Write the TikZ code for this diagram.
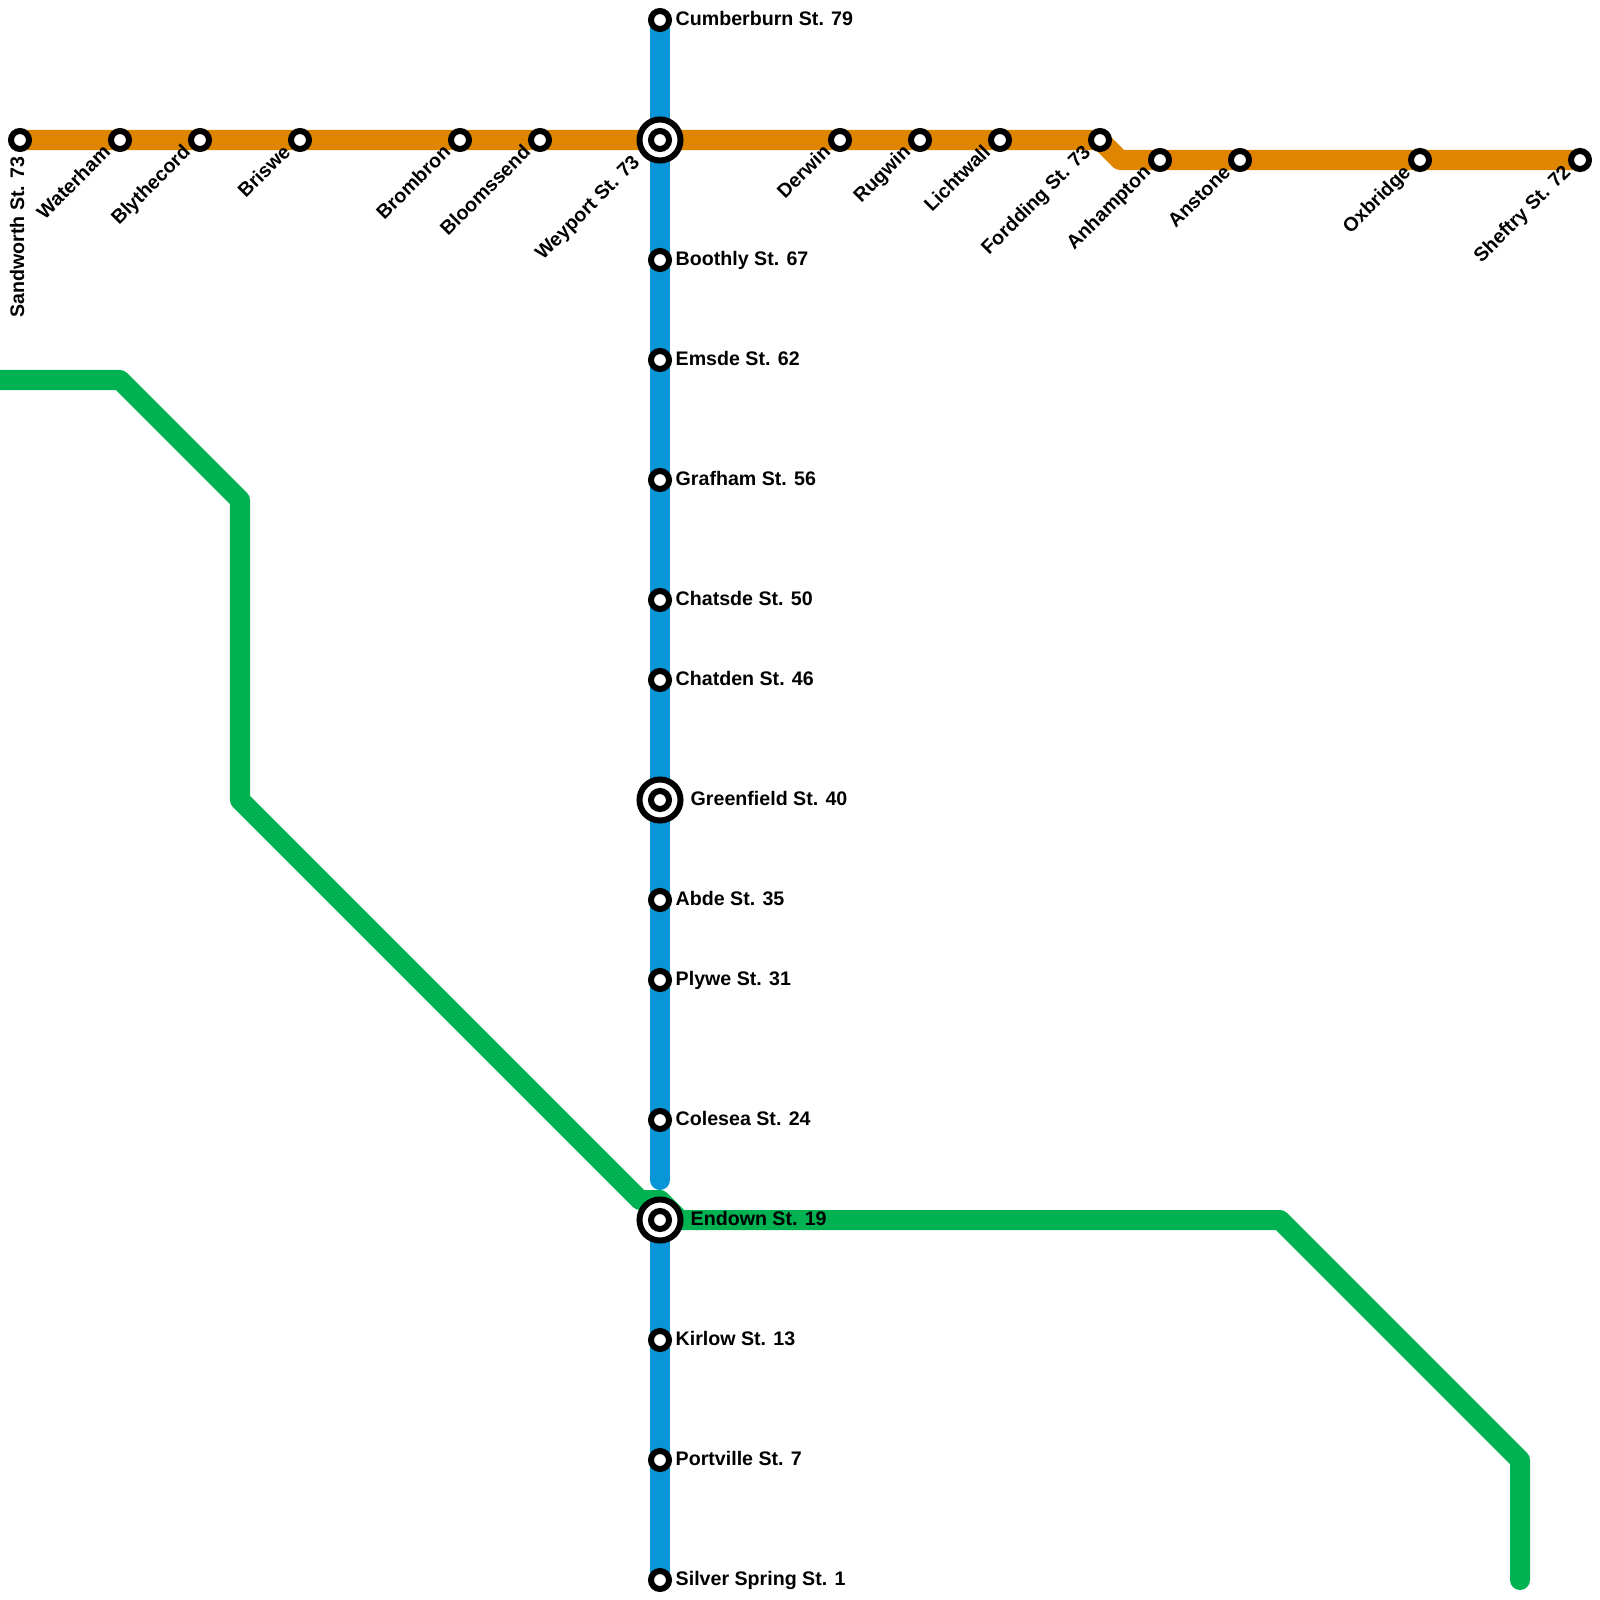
\documentclass[tikz,border=0pt]{standalone}
\usepackage{fontspec}
\setmainfont{Liberation Sans}
\usepackage{xcolor}
\definecolor{lnblue}{RGB}{9,150,217}
\definecolor{lnorange}{RGB}{223,133,0}
\definecolor{lngreen}{RGB}{0,178,81}
\usetikzlibrary{backgrounds}
\tikzset{
  stn/.style={circle, draw=black, fill=white, line width=0.06cm, minimum size=0.18cm, inner sep=0pt},
  hub/.style={circle, draw=black, fill=white, line width=0.06cm, minimum size=0.41cm, inner sep=0pt},
  lnroute/.style={line width=0.2cm, line cap=round, line join=round},
  lblbase/.style={font=\fontsize{5.58pt}{6pt}\selectfont\bfseries, inner sep=0pt, text height=4pt, text depth=0pt},
  lblright/.style={lblbase, anchor=west},
  lbldiag/.style={lblbase, anchor=east, xshift=-0.04cm, yshift=0.02cm, rotate=45},
  lblup/.style={lblbase, anchor=east, rotate=90},
}
\begin{document}
\begin{tikzpicture}[x=0.01cm, y=-0.01cm]
  \useasboundingbox (0,0) rectangle (1600,1600);
  % orange stations
  \node[stn] (sandworth) at (20,140) {};
  \node[stn] (waterham) at (120,140) {};
  \node[stn] (blythecord) at (200,140) {};
  \node[stn] (briswe) at (300,140) {};
  \node[stn] (brombron) at (460,140) {};
  \node[stn] (bloomssend) at (540,140) {};
  \node[hub] (weyporthub) at (660,140) {};
  \node[stn] (weyport) at (660,140) {};
  \node[stn] (derwin) at (840,140) {};
  \node[stn] (rugwin) at (920,140) {};
  \node[stn] (lichtwall) at (1000,140) {};
  \node[stn] (fordding) at (1100,140) {};
  \node[stn] (anhampton) at (1160,160) {};
  \node[stn] (anstone) at (1240,160) {};
  \node[stn] (oxbridge) at (1420,160) {};
  \node[stn] (sheftry) at (1580,160) {};
  % blue stations
  \node[stn] (cumberburn) at (660,20) {};
  \node[stn] (boothly) at (660,260) {};
  \node[stn] (emsde) at (660,360) {};
  \node[stn] (grafham) at (660,480) {};
  \node[stn] (chatsde) at (660,600) {};
  \node[stn] (chatden) at (660,680) {};
  \node[hub] (greenfieldhub) at (660,800) {};
  \node[stn] (greenfield) at (660,800) {};
  \node[stn] (abde) at (660,900) {};
  \node[stn] (plywe) at (660,980) {};
  \node[stn] (colesea) at (660,1120) {};
  \node[hub] (endownhub) at (660,1220) {};
  \node[stn] (endown) at (660,1220) {};
  \node[stn] (kirlow) at (660,1340) {};
  \node[stn] (portville) at (660,1460) {};
  \node[stn] (silver) at (660,1580) {};
  % corners
  \coordinate (orangebend1) at (1120,160);
  \coordinate (bluegap) at (660,1180);
  \coordinate (green1) at (-20,380);
  \coordinate (green2) at (120,380);
  \coordinate (green3) at (240,500);
  \coordinate (green4) at (240,800);
  \coordinate (green5) at (640,1200);
  \coordinate (green6) at (660,1200);
  \coordinate (green7) at (680,1220);
  \coordinate (green8) at (1280,1220);
  \coordinate (green9) at (1520,1460);
  \coordinate (green10) at (1520,1580);
  % lines
  \begin{scope}[on background layer]
    \draw[lnroute, lngreen] (green1) -- (green2) -- (green3) -- (green4) -- (green5) -- (green6) -- (green7) -- (green8) -- (green9) -- (green10);
    \draw[lnroute, lnblue] (cumberburn.center) -- (weyport.center) -- (boothly.center) -- (emsde.center) -- (grafham.center) -- (chatsde.center) -- (chatden.center) -- (greenfield.center) -- (abde.center) -- (plywe.center) -- (colesea.center) -- (bluegap);
    \draw[lnroute, lnblue] (endown.center) -- (kirlow.center) -- (portville.center) -- (silver.center);
    \draw[lnroute, lnorange] (sandworth.center) -- (waterham.center) -- (blythecord.center) -- (briswe.center) -- (brombron.center) -- (bloomssend.center) -- (weyport.center) -- (derwin.center) -- (rugwin.center) -- (lichtwall.center) -- (fordding.center) -- (orangebend1) -- (anhampton.center) -- (anstone.center) -- (oxbridge.center) -- (sheftry.center);
  \end{scope}
  % labels
  \node[lblup] (lsandworth) at (17,156) {Sandworth St. 73};
  \node[lbldiag] (lwaterham) at (111,150) {Waterham};
  \node[lbldiag] (lblythecord) at (191,150) {Blythecord};
  \node[lbldiag] (lbriswe) at (291,150) {Briswe};
  \node[lbldiag] (lbrombron) at (451,150) {Brombron};
  \node[lbldiag] (lbloomssend) at (531,150) {Bloomssend};
  \node[lbldiag] (lweyport) at (640,160) {Weyport St. 73};
  \node[lbldiag] (lderwin) at (831,150) {Derwin};
  \node[lbldiag] (lrugwin) at (911,150) {Rugwin};
  \node[lbldiag] (llichtwall) at (991,150) {Lichtwall};
  \node[lbldiag] (lfordding) at (1091,150) {Fordding St. 73};
  \node[lbldiag] (lanhampton) at (1151,170) {Anhampton};
  \node[lbldiag] (lanstone) at (1231,170) {Anstone};
  \node[lbldiag] (loxbridge) at (1411,170) {Oxbridge};
  \node[lbldiag] (lsheftry) at (1571,170) {Sheftry St. 72};
  \node[lblright] (lcumberburn) at (675,18) {Cumberburn St. 79};
  \node[lblright] (lboothly) at (675,258) {Boothly St. 67};
  \node[lblright] (lemsde) at (675,358) {Emsde St. 62};
  \node[lblright] (lgrafham) at (675,478) {Grafham St. 56};
  \node[lblright] (lchatsde) at (675,598) {Chatsde St. 50};
  \node[lblright] (lchatden) at (675,678) {Chatden St. 46};
  \node[lblright] (lgreenfield) at (690,798) {Greenfield St. 40};
  \node[lblright] (labde) at (675,898) {Abde St. 35};
  \node[lblright] (lplywe) at (675,978) {Plywe St. 31};
  \node[lblright] (lcolesea) at (675,1118) {Colesea St. 24};
  \node[lblright] (lendown) at (690,1218) {Endown St. 19};
  \node[lblright] (lkirlow) at (675,1338) {Kirlow St. 13};
  \node[lblright] (lportville) at (675,1458) {Portville St. 7};
  \node[lblright] (lsilver) at (675,1578) {Silver Spring St. 1};
\end{tikzpicture}
\end{document}
